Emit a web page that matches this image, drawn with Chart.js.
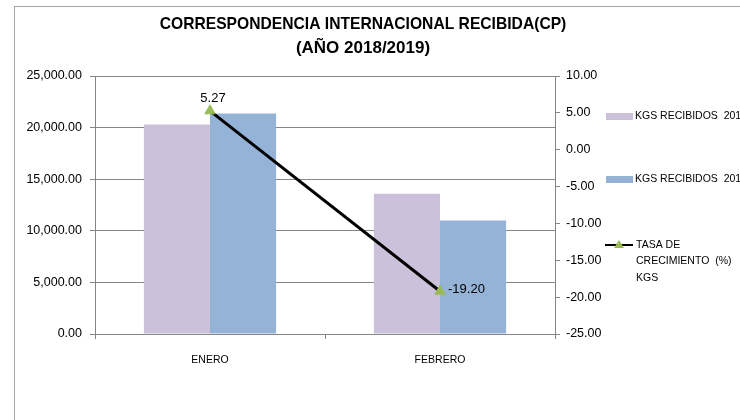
<!DOCTYPE html>
<html>
<head>
<meta charset="utf-8">
<script src="https://cdn.jsdelivr.net/npm/chart.js@4"></script>
<style>
  html, body { margin: 0; padding: 0; background: #fff; }
  #wrap { width: 740px; height: 420px; }
</style>
</head>
<body>
<div id="wrap"><canvas id="chart" width="740" height="420"></canvas></div>
<script>
const months = ['ENERO', 'FEBRERO'];
const kgs2018 = [20300, 13600];
const kgs2019 = [21370, 10990];
const growth = [5.27, -19.20];
const seriesNames = ['KGS RECIBIDOS  2018', 'KGS RECIBIDOS  2019', 'TASA DE|CRECIMIENTO  (%)|KGS'];
const titleLines = ['CORRESPONDENCIA INTERNACIONAL RECIBIDA(CP)', '(AÑO 2018/2019)'];

const FONT = "'Liberation Sans Narrow', 'Liberation Sans', sans-serif";
const numFmt = v => v.toLocaleString('en-US', { minimumFractionDigits: 2, maximumFractionDigits: 2 });

// text squeezed sideways a bit, the original uses a narrow font
function narrowText(ctx, txt, x, y, sx) {
  ctx.save();
  ctx.translate(x, y);
  ctx.scale(sx, 1);
  ctx.fillText(txt, 0, 0);
  ctx.restore();
}

// frame, title, legend and point labels drawn by hand
const decor = {
  id: 'decor',
  beforeDraw(chart) {
    const ctx = chart.ctx;
    ctx.save();
    ctx.fillStyle = '#fff';
    ctx.fillRect(0, 0, chart.width, chart.height);
    ctx.strokeStyle = '#a6a6a6';
    ctx.lineWidth = 1;
    ctx.strokeRect(14.5, 6.5, 900, 600);
    ctx.restore();
  },
  afterDraw(chart) {
    const ctx = chart.ctx;
    ctx.save();
    ctx.fillStyle = '#000';
    ctx.textAlign = 'center';
    ctx.textBaseline = 'middle';
    ctx.font = 'bold 17px ' + FONT;
    narrowText(ctx, titleLines[0], 363, 24, 0.92);
    narrowText(ctx, titleLines[1], 363, 48, 1);

    // legend
    ctx.textAlign = 'left';
    ctx.font = '10.5px ' + FONT;
    const ds = chart.data.datasets;
    ctx.fillStyle = ds[0].backgroundColor;
    ctx.fillRect(606, 113, 27, 7);
    ctx.fillStyle = '#000';
    ctx.fillText(seriesNames[0], 635, 116);
    ctx.fillStyle = ds[1].backgroundColor;
    ctx.fillRect(606, 176, 27, 7);
    ctx.fillStyle = '#000';
    ctx.fillText(seriesNames[1], 635, 179);
    ctx.strokeStyle = '#000';
    ctx.lineWidth = 2;
    ctx.beginPath();
    ctx.moveTo(605, 245);
    ctx.lineTo(633, 245);
    ctx.stroke();
    ctx.fillStyle = ds[2].pointBackgroundColor;
    ctx.beginPath();
    ctx.moveTo(619, 240);
    ctx.lineTo(624, 248);
    ctx.lineTo(614, 248);
    ctx.closePath();
    ctx.fill();
    ctx.fillStyle = '#000';
    seriesNames[2].split('|').forEach((t, i) => ctx.fillText(t, 636, 245 + i * 16.5));

    // value labels on the growth line
    const meta = chart.getDatasetMeta(2);
    ctx.font = '13px ' + FONT;
    meta.data.forEach((pt, i) => {
      const txt = numFmt(growth[i]);
      if (i === 0) {
        ctx.textAlign = 'center';
        ctx.fillText(txt, pt.x + 3, pt.y - 12);
      } else {
        ctx.textAlign = 'left';
        ctx.fillText(txt, pt.x + 8, pt.y - 2);
      }
    });
    ctx.restore();
  }
};

new Chart(document.getElementById('chart'), {
  data: {
    labels: months,
    datasets: [
      {
        type: 'bar', label: seriesNames[0], data: kgs2018, yAxisID: 'y',
        backgroundColor: '#ccc1da', categoryPercentage: 0.575, barPercentage: 1, order: 2
      },
      {
        type: 'bar', label: seriesNames[1], data: kgs2019, yAxisID: 'y',
        backgroundColor: '#95b3d7', categoryPercentage: 0.575, barPercentage: 1, order: 2
      },
      {
        type: 'line', label: seriesNames[2], data: growth, yAxisID: 'y1',
        borderColor: '#000', borderWidth: 3, pointStyle: 'triangle', pointRadius: 6,
        pointBackgroundColor: '#9bbb59', pointBorderColor: '#9bbb59', pointBorderWidth: 1,
        order: 0
      }
    ]
  },
  options: {
    responsive: false,
    animation: false,
    layout: { padding: { top: 76, left: 0, right: 0, bottom: 0 } },
    plugins: { legend: { display: false }, tooltip: { enabled: false }, title: { display: false } },
    scales: {
      x: {
        offset: true,
        grid: { offset: true, drawOnChartArea: false, tickLength: 5, color: '#868686' },
        border: { color: '#868686' },
        ticks: { padding: 15, color: '#000', font: { family: FONT, size: 10.5 } },
        afterFit(s) { s.height = 86; }
      },
      y: {
        position: 'left', min: 0, max: 25000,
        ticks: { stepSize: 5000, padding: 8, color: '#000', font: { family: FONT, size: 12.5 }, callback: v => numFmt(v) },
        grid: { color: '#868686', tickLength: 5 },
        border: { color: '#868686' },
        afterFit(s) { s.width = 95; }
      },
      y1: {
        position: 'right', min: -25, max: 10,
        ticks: { stepSize: 5, padding: 6, color: '#000', font: { family: FONT, size: 12.5 }, callback: v => numFmt(v) },
        grid: { drawOnChartArea: false, color: '#868686', tickLength: 5 },
        border: { color: '#868686' },
        afterFit(s) { s.width = 185; }
      }
    }
  },
  plugins: [decor]
});
</script>
</body>
</html>
